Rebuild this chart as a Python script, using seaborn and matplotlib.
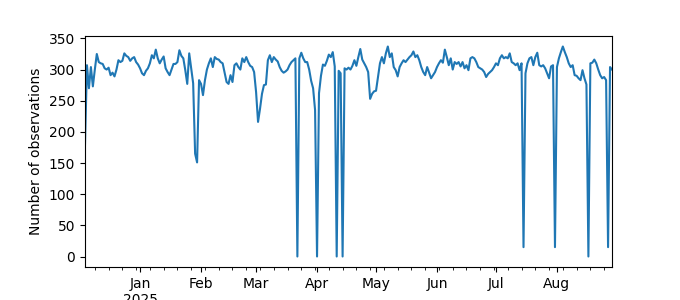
import matplotlib
matplotlib.use("Agg")
import matplotlib.pyplot as plt
import matplotlib.dates as mdates
from matplotlib.ticker import FuncFormatter
import numpy as np
import pandas as pd
import seaborn as sns

start_date = "2024-12-04"
observations = [
    180, 307, 270, 304, 273, 300, 325, 312, 310, 309,
    302, 300, 303, 291, 295, 289, 300, 315, 312, 314,
    326, 322, 320, 314, 318, 320, 312, 308, 302, 294,
    291, 298, 302, 310, 323, 318, 332, 318, 310, 316,
    321, 302, 296, 291, 300, 309, 309, 312, 331, 322,
    318, 299, 277, 326, 302, 278, 165, 151, 283, 277,
    259, 283, 300, 310, 318, 304, 320, 317, 316, 312,
    310, 295, 280, 277, 291, 280, 307, 310, 304, 300,
    318, 312, 320, 312, 306, 304, 296, 264, 216, 237,
    261, 275, 276, 315, 323, 312, 320, 316, 313, 304,
    298, 295, 297, 300, 307, 312, 315, 318, 0, 318,
    327, 318, 312, 312, 300, 282, 270, 235, 0, 262,
    290, 308, 306, 314, 324, 320, 328, 305, 0, 298,
    294, 0, 302, 300, 303, 300, 306, 315, 306, 320,
    333, 316, 310, 304, 296, 253, 261, 265, 266, 288,
    310, 320, 310, 326, 337, 320, 326, 304, 299, 289,
    304, 310, 315, 312, 316, 320, 323, 329, 320, 323,
    315, 304, 296, 291, 304, 295, 286, 291, 296, 304,
    310, 315, 311, 332, 320, 307, 318, 300, 312, 309,
    312, 305, 312, 302, 307, 299, 318, 320, 318, 312,
    304, 302, 300, 296, 288, 293, 296, 299, 304, 310,
    307, 318, 323, 318, 320, 318, 326, 312, 310, 307,
    310, 299, 310, 15, 294, 310, 318, 320, 307, 320,
    327, 307, 305, 307, 302, 294, 286, 305, 307, 15,
    304, 318, 328, 337, 328, 320, 310, 304, 307, 291,
    290, 286, 283, 299, 286, 276, 0, 310, 311, 316,
    310, 300, 291, 286, 288, 283, 15, 304, 300,
]
ylabel = "Number of observations"

dates = pd.date_range(start_date, periods=len(observations), freq="D")
df = pd.DataFrame({"date": dates, "count": observations})

fig, ax = plt.subplots(figsize=(6.8, 3.0), dpi=100)
sns.lineplot(data=df, x="date", y="count", ax=ax, color="#1f77b4", linewidth=1.5)

ax.set_xlim(dates[0], dates[-1])
ax.xaxis.set_major_locator(mdates.MonthLocator())
ax.xaxis.set_minor_locator(mdates.WeekdayLocator(byweekday=mdates.MO))


def fmt(x, pos):
    d = mdates.num2date(x)
    if d.month == 1:
        return d.strftime("%b\n%Y")
    return d.strftime("%b")


ax.xaxis.set_major_formatter(FuncFormatter(fmt))
ax.xaxis.set_minor_formatter(FuncFormatter(lambda x, pos: ""))
ax.set_xlabel("")
ax.set_ylabel(ylabel)

fig.savefig("out.png", dpi=100)
